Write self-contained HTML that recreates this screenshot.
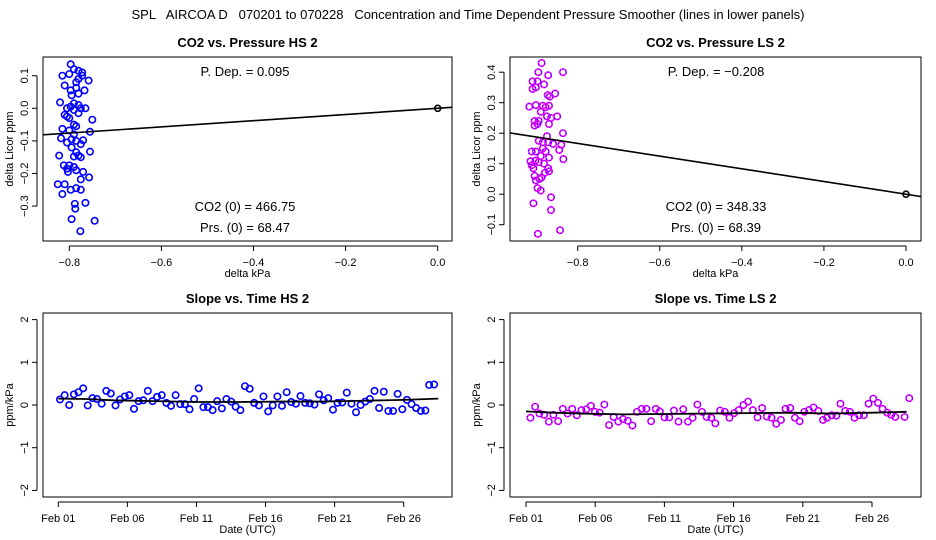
<!DOCTYPE html>
<html><head><meta charset="utf-8"><style>
html,body{margin:0;padding:0;background:#fff;}
svg{display:block;font-family:"Liberation Sans",Arial,sans-serif;}
</style></head><body>
<svg id="c" width="936" height="540" viewBox="0 0 936 540">
<text x="468" y="19" text-anchor="middle" font-size="13" style="white-space:pre">SPL   AIRCOA D   070201 to 070228   Concentration and Time Dependent Pressure Smoother (lines in lower panels)</text>
</svg>
<script>
// ---- data ----
const hsX=[-0.797,-0.79,-0.78,-0.772,-0.772,-0.815,-0.80,-0.758,-0.78,-0.785,-0.81,-0.785,-0.767,-0.797,-0.795,-0.78,-0.82,-0.79,-0.78,-0.797,-0.805,-0.775,-0.765,-0.79,-0.78,-0.81,-0.805,-0.80,-0.75,-0.79,-0.785,-0.815,-0.80,-0.755,-0.79,-0.818,-0.795,-0.77,-0.785,-0.805,-0.775,-0.795,-0.755,-0.785,-0.822,-0.78,-0.79,-0.775,-0.812,-0.80,-0.79,-0.805,-0.803,-0.77,-0.785,-0.757,-0.775,-0.825,-0.81,-0.785,-0.797,-0.775,-0.815,-0.788,-0.765,-0.787,-0.795,-0.745,-0.776];
const hsY=[0.135,0.12,0.115,0.11,0.10,0.10,0.105,0.085,0.09,0.08,0.07,0.063,0.055,0.055,0.04,0.045,0.018,0.015,0.01,0.005,0.0,0.0,0.0,-0.005,-0.015,-0.02,-0.025,-0.03,-0.035,-0.05,-0.055,-0.063,-0.068,-0.072,-0.08,-0.092,-0.095,-0.098,-0.10,-0.105,-0.11,-0.12,-0.133,-0.135,-0.145,-0.145,-0.148,-0.15,-0.175,-0.175,-0.18,-0.185,-0.195,-0.195,-0.19,-0.212,-0.218,-0.233,-0.233,-0.245,-0.25,-0.25,-0.263,-0.293,-0.29,-0.308,-0.34,-0.345,-0.377];
const lsX=[-0.91,-0.888,-0.896,-0.872,-0.836,-0.91,-0.902,-0.898,-0.882,-0.873,-0.855,-0.868,-0.918,-0.902,-0.885,-0.878,-0.89,-0.87,-0.905,-0.895,-0.865,-0.85,-0.875,-0.905,-0.898,-0.87,-0.836,-0.875,-0.895,-0.885,-0.872,-0.86,-0.84,-0.845,-0.885,-0.878,-0.912,-0.902,-0.89,-0.87,-0.835,-0.915,-0.903,-0.895,-0.882,-0.912,-0.908,-0.872,-0.88,-0.87,-0.905,-0.893,-0.902,-0.888,-0.898,-0.89,-0.865,-0.908,-0.865,-0.843,-0.897];
const lsY=[0.37,0.43,0.40,0.39,0.40,0.345,0.35,0.37,0.36,0.325,0.33,0.32,0.287,0.292,0.29,0.285,0.27,0.29,0.24,0.24,0.25,0.255,0.255,0.225,0.23,0.23,0.20,0.19,0.175,0.17,0.17,0.165,0.162,0.145,0.15,0.14,0.14,0.14,0.125,0.12,0.115,0.108,0.11,0.105,0.1,0.095,0.085,0.085,0.07,0.075,0.06,0.05,0.045,0.055,0.02,0.012,-0.01,-0.03,-0.052,-0.118,-0.13];
const hsSlope=0.095, lsSlope=-0.208;
const hsTime=[1.12,1.46,1.79,2.13,2.46,2.8,3.13,3.47,3.8,4.14,4.47,4.8,5.14,5.47,5.81,6.14,6.48,6.81,7.15,7.48,7.82,8.15,8.49,8.82,9.16,9.49,9.83,10.16,10.5,10.83,11.16,11.5,11.83,12.17,12.5,12.84,13.17,13.51,13.84,14.18,14.51,14.85,15.18,15.52,15.85,16.19,16.52,16.86,17.19,17.53,17.86,18.2,18.53,18.87,19.2,19.54,19.87,20.21,20.54,20.88,21.21,21.55,21.88,22.22,22.55,22.88,23.22,23.55,23.89,24.22,24.56,24.89,25.23,25.56,25.9,26.23,26.57,26.9,27.24,27.57,27.84,28.2];
const hsVal=[0.13,0.23,0,0.25,0.3,0.39,-0.01,0.16,0.14,0.03,0.33,0.27,-0.01,0.13,0.2,0.23,-0.09,0.09,0.11,0.33,0.09,0.19,0.23,0.05,-0.02,0.23,0.02,0.02,-0.1,0.14,0.39,-0.05,-0.05,-0.12,0.09,-0.08,0.14,0.08,-0.04,-0.12,0.44,0.38,0.05,-0.01,0.2,-0.15,-0.01,0.2,-0.02,0.3,0.07,0.03,0.21,0.05,0.04,0.01,0.25,0.11,0.16,-0.11,0.05,0.06,0.29,0.03,-0.17,0,0.08,0.14,0.33,-0.07,0.31,-0.14,-0.14,0.26,-0.1,0.12,0.02,-0.07,-0.14,-0.13,0.47,0.48];
const lsTime=[1.32,1.66,1.97,2.31,2.65,2.98,3.32,3.66,4.0,4.34,4.67,5.01,5.35,5.69,5.98,6.32,6.66,7.0,7.33,7.67,8.01,8.35,8.69,9.02,9.36,9.7,10.04,10.38,10.67,11.01,11.35,11.69,12.02,12.36,12.7,13.04,13.38,13.71,14.05,14.39,14.68,15.02,15.36,15.7,16.04,16.37,16.71,17.05,17.39,17.73,18.06,18.4,18.74,19.08,19.42,19.75,20.09,20.43,20.77,21.11,21.44,21.78,22.12,22.46,22.75,23.09,23.43,23.72,24.06,24.4,24.74,25.07,25.41,25.75,26.09,26.43,26.76,27.1,27.39,27.68,28.35,28.69];
const lsVal=[-0.3,-0.04,-0.2,-0.23,-0.39,-0.23,-0.38,-0.09,-0.2,-0.09,-0.24,-0.12,-0.1,-0.02,-0.16,-0.18,0.01,-0.47,-0.28,-0.39,-0.33,-0.37,-0.48,-0.16,-0.09,-0.09,-0.38,-0.09,-0.15,-0.29,-0.29,-0.13,-0.39,-0.1,-0.39,-0.3,0.01,-0.16,-0.28,-0.3,-0.43,-0.13,-0.16,-0.3,-0.19,-0.12,0,0.08,-0.12,-0.29,-0.07,-0.27,-0.3,-0.44,-0.35,-0.09,-0.07,-0.3,-0.38,-0.16,-0.12,-0.06,-0.14,-0.35,-0.3,-0.24,-0.25,0.03,-0.14,-0.16,-0.3,-0.24,-0.24,0.03,0.15,0.05,-0.09,-0.18,-0.23,-0.28,-0.28,0.16];
const hsSmDays=[1,3,5,8,11,14,17,20,23,26,28.5];
const hsSmVals=[0.15,0.14,0.11,0.09,0.07,0.07,0.08,0.08,0.1,0.12,0.15];
const lsSmDays=[1,3,5,8,11,14,17,20,23,26,28.5];
const lsSmVals=[-0.15,-0.18,-0.2,-0.22,-0.21,-0.2,-0.19,-0.18,-0.2,-0.18,-0.16];
const yTicksTop1=[0.1,0,-0.1,-0.2,-0.3], yTicksTop2=[0.4,0.3,0.2,0.1,0,-0.1];
const xTicksTop=[-0.8,-0.6,-0.4,-0.2,0];
const yTicksBot=[2,1,0,-1,-2];
const dayTicks=[1,6,11,16,21,26], dayLabels=["Feb 01","Feb 06","Feb 11","Feb 16","Feb 21","Feb 26"];

const svg=document.getElementById('c');
const NS='http://www.w3.org/2000/svg';
function mk(tag,at,parent){const e=document.createElementNS(NS,tag);for(const k in at)e.setAttribute(k,at[k]);(parent||svg).appendChild(e);return e;}
function fmt(v,d){let s=v.toFixed(d);if(Math.abs(v)<1e-9)s=(0).toFixed(d);return s.replace('-','\u2212');}

function panel(o){
  const g=mk('g',{});
  
  
  const X=v=>o.x0+(v-o.xa)*(o.x1-o.x0)/(o.xb-o.xa);
  const Y=v=>o.y0+(v-o.ya)*(o.y1-o.y0)/(o.yb-o.ya);
  const box=mk('rect',{x:o.L,y:o.T,width:o.R-o.L,height:o.B-o.T,fill:'none',stroke:'#000','stroke-width':1},g);
  
  
  const t=mk('text',{x:(o.L+o.R)/2,y:o.T-10,'text-anchor':'middle','font-size':13,'font-weight':'bold'},g);
  t.textContent=o.title;
  
  
  const yt=o.yTicks;
  mk('line',{x1:o.L-6,x2:o.L-6,y1:Y(yt[0]),y2:Y(yt[yt.length-1]),stroke:'#000'},g);
  yt.forEach(v=>{
    mk('line',{x1:o.L-11,x2:o.L-6,y1:Y(v),y2:Y(v),stroke:'#000'},g);
    const tx=mk('text',{x:0,y:0,'text-anchor':'middle','font-size':11,transform:`translate(${o.L-15},${Y(v)}) rotate(-90)`},g);
    tx.textContent=o.yFmt(v);
    
    
  });
  const yl=mk('text',{x:0,y:0,'text-anchor':'middle','font-size':11,transform:`translate(${o.L-30},${(o.T+o.B)/2}) rotate(-90)`},g);
  yl.textContent=o.ylab;
  
  
  const xt=o.xTicks;
  mk('line',{x1:X(xt[0]),x2:X(xt[xt.length-1]),y1:o.B+5,y2:o.B+5,stroke:'#000'},g);
  xt.forEach((v,i)=>{
    mk('line',{x1:X(v),x2:X(v),y1:o.B+5,y2:o.B+10,stroke:'#000'},g);
    const tx=mk('text',{x:X(v),y:o.B+25,'text-anchor':'middle','font-size':11},g);
    tx.textContent=o.xLab(v,i);
    
    
  });
  const xl=mk('text',{x:(o.L+o.R)/2,y:o.B+36,'text-anchor':'middle','font-size':11},g);
  xl.textContent=o.xlab;
  
  
  const clip='cl'+o.name;
  const cp=mk('clipPath',{id:clip},g);mk('rect',{x:o.L,y:o.T,width:o.R-o.L,height:o.B-o.T},cp);
  const pg=mk('g',{'clip-path':`url(#${clip})`},g);
  return {g:pg,X,Y,outer:g};
}
function pts(p,xs,ys,col,col2){
  xs.forEach((x,i)=>{
    const c=mk('circle',{cx:p.X(x),cy:p.Y(ys[i]),r:3.2,fill:'none',stroke:col,'stroke-width':1.6},p.g);
    
    
    if(col2){mk('circle',{cx:p.X(x),cy:p.Y(ys[i]),r:3.2,fill:'none',stroke:col2,'stroke-width':0.8,'stroke-dasharray':'1.5 2'},p.g);}
  });
}
function label(p,x,y,s){const t=mk('text',{x,y,'text-anchor':'middle','font-size':13},p.outer);t.textContent=s;}

const p1=panel({name:'co2-vs-pressure-hs',title:'CO2 vs. Pressure HS 2',L:43,R:452,T:57,B:241,
  xa:-0.8,xb:0,x0:69.3,x1:437.7,ya:0,yb:0.1,y0:108.3,y1:75.7,yTicks:yTicksTop1,xTicks:xTicksTop,
  yFmt:v=>fmt(v,1),xLab:v=>fmt(v,1),ylab:'delta Licor ppm',xlab:'delta kPa'});
pts(p1,hsX,hsY,'#0000ff');
let l=mk('line',{x1:p1.X(-0.9),y1:p1.Y(-0.9*hsSlope),x2:p1.X(0.05),y2:p1.Y(0.05*hsSlope),stroke:'#000','stroke-width':1.6},p1.g);

mk('circle',{cx:p1.X(0),cy:p1.Y(0),r:3,fill:'none',stroke:'#000','stroke-width':1.6},p1.g);
label(p1,245,76,'P. Dep. =  0.095');label(p1,245,211,'CO2 (0) =  466.75');label(p1,245,232,'Prs. (0) =  68.47');

const p2=panel({name:'co2-vs-pressure-ls',title:'CO2 vs. Pressure LS 2',L:510,R:921,T:57,B:241,
  xa:-0.8,xb:0,x0:577.7,x1:906,ya:0,yb:0.1,y0:194.2,y1:163.7,yTicks:yTicksTop2,xTicks:xTicksTop,
  yFmt:v=>fmt(v,1),xLab:v=>fmt(v,1),ylab:'delta Licor ppm',xlab:'delta kPa'});
pts(p2,lsX,lsY,'#ff00ff','#0000ff');
l=mk('line',{x1:p2.X(-1),y1:p2.Y(-1*lsSlope),x2:p2.X(0.05),y2:p2.Y(0.05*lsSlope),stroke:'#000','stroke-width':1.6},p2.g);

mk('circle',{cx:p2.X(0),cy:p2.Y(0),r:3,fill:'none',stroke:'#000','stroke-width':1.6},p2.g);
label(p2,716,76,'P. Dep. =  \u22120.208');label(p2,716,211,'CO2 (0) =  348.33');label(p2,716,232,'Prs. (0) =  68.39');

const p3=panel({name:'slope-vs-time-hs',title:'Slope vs. Time HS 2',L:43,R:452,T:313,B:497,
  xa:1,xb:26,x0:58.3,x1:403.7,ya:0,yb:1,y0:405,y1:362.3,yTicks:yTicksBot,xTicks:dayTicks,
  yFmt:v=>fmt(v,0),xLab:(v,i)=>dayLabels[i],ylab:'ppm/kPa',xlab:'Date (UTC)'});
pts(p3,hsTime,hsVal,'#0000ff');
l=mk('polyline',{points:hsSmDays.map((d,i)=>p3.X(d)+','+p3.Y(hsSmVals[i])).join(' '),fill:'none',stroke:'#000','stroke-width':1.8},p3.g);


const p4=panel({name:'slope-vs-time-ls',title:'Slope vs. Time LS 2',L:510,R:921,T:313,B:497,
  xa:1,xb:26,x0:526,x1:872,ya:0,yb:1,y0:405,y1:362.3,yTicks:yTicksBot,xTicks:dayTicks,
  yFmt:v=>fmt(v,0),xLab:(v,i)=>dayLabels[i],ylab:'ppm/kPa',xlab:'Date (UTC)'});
pts(p4,lsTime,lsVal,'#ff00ff','#0000ff');
l=mk('polyline',{points:lsSmDays.map((d,i)=>p4.X(d)+','+p4.Y(lsSmVals[i])).join(' '),fill:'none',stroke:'#000','stroke-width':1.8},p4.g);

</script>
</body></html>
